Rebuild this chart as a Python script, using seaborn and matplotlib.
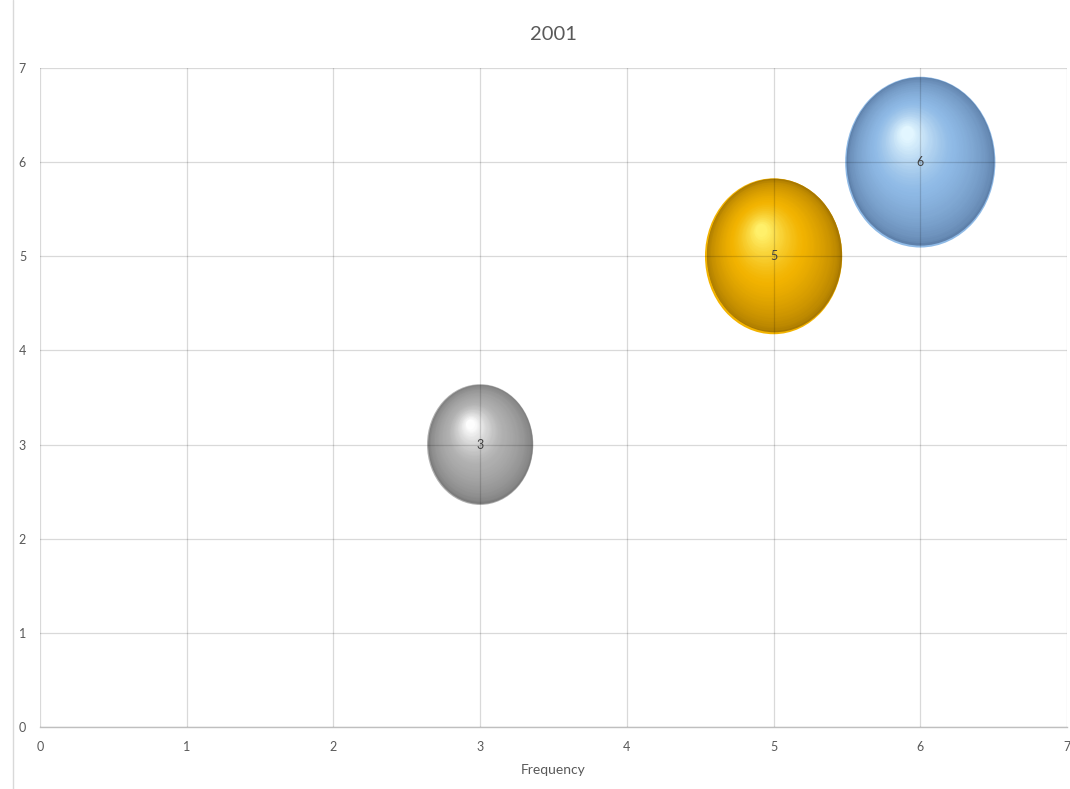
import numpy as np
import pandas as pd
import matplotlib
matplotlib.use("Agg")
import matplotlib.pyplot as plt
import matplotlib.transforms as mtransforms
from matplotlib.path import Path
from matplotlib.colors import to_rgb
from matplotlib.lines import Line2D
import seaborn as sns

# ── DATA ────────────────────────────────────────────
x_vals = [3, 5, 6]
y_vals = [3, 5, 6]
bubble_vals = [3, 5, 6]
point_labels = ["3", "5", "6"]
series = ["a", "b", "c"]

# bubble shading colours (rim, body, highlight)
dark_cols = ["#7c7c7c", "#a87800", "#5e80aa"]
base_cols = ["#b0b0b0", "#f2b300", "#8fbae6"]
light_cols = ["#fdfdfd", "#fff06a", "#e2f6ff"]

df = pd.DataFrame({"x": x_vals, "y": y_vals, "value": bubble_vals,
                   "series": series})

# ── STYLE ───────────────────────────────────────────
sns.set_style("white")
plt.rcParams["font.family"] = ["Lato", "DejaVu Sans"]

fig = plt.figure(figsize=(10.7, 7.89), dpi=100)
ax = fig.add_axes([40 / 1070, 1 - 727 / 789, 1027 / 1070, 659 / 789])

# slightly tall ellipse, like the Excel 3-D bubbles
ell = mtransforms.Affine2D().scale(0.88, 1.0).transform_path(Path.unit_circle())

sns.scatterplot(data=df, x="x", y="y", size="value", sizes=(7560, 15120),
                hue="series", palette=dict(zip(series, base_cols)),
                marker=ell, linewidth=0, edgecolor="none", legend=False,
                alpha=1, zorder=1, ax=ax)
sizes = ax.collections[0].get_sizes()


def mix(c1, c2, t):
    a, b = np.array(to_rgb(c1)), np.array(to_rgb(c2))
    return tuple(a + (b - a) * t)


# fake 3-D shading: stacked, shrinking, shifted layers
n_layers = 50
for i, row in df.iterrows():
    d = np.sqrt(sizes[i])
    for k in range(n_layers):
        t = k / (n_layers - 1)
        scale = 0.985 - 0.9 * t
        dx = -0.08 * d * t
        dy = 0.008 * d + 0.16 * d * t
        if t < 0.5:
            col = mix(dark_cols[i], base_cols[i], (t / 0.5) ** 0.6)
        else:
            col = mix(base_cols[i], light_cols[i], ((t - 0.5) / 0.5) ** 1.3)
        tr = mtransforms.offset_copy(ax.transData, fig=fig, x=dx, y=dy,
                                     units="points")
        ax.scatter(row.x, row.y, s=(d * scale) ** 2, marker=ell, linewidth=0,
                   color=col, transform=tr, zorder=1.2)

for xv, yv, lab in zip(x_vals, y_vals, point_labels):
    ax.text(xv, yv, lab, ha="center", va="center", fontsize=9,
            color="#404040", zorder=5)

# ── AXES ────────────────────────────────────────────
ax.set_xlim(0, 7)
ax.set_ylim(0, 7)
ax.set_xticks(range(8))
ax.set_yticks(range(8))
ax.set_axisbelow(False)
ax.grid(True, color="black", alpha=0.15, linewidth=0.9, zorder=3)
for s in ["left", "top", "right"]:
    ax.spines[s].set_visible(False)
ax.spines["bottom"].set_color("#bfbfbf")
ax.spines["bottom"].set_linewidth(1.0)
ax.tick_params(length=0, labelsize=9, labelcolor="#595959", pad=10)
ax.set_xlabel("Frequency", fontsize=10, color="#595959", labelpad=8)
ax.set_ylabel("")
ax.set_title("2001", fontsize=14.5, color="#595959", pad=20)

# chart area border on the left
fig.add_artist(Line2D([13 / 1070, 13 / 1070], [0, 1], transform=fig.transFigure,
                      color="#d9d9d9", linewidth=1))

fig.savefig("out.png", dpi=100)
